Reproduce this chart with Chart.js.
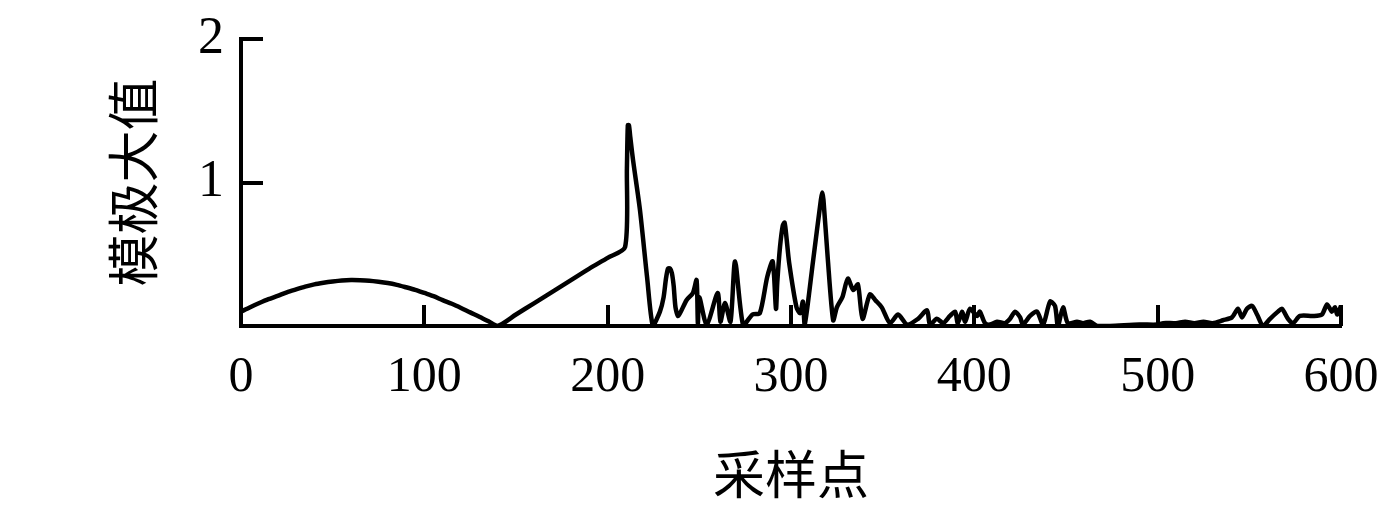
<!DOCTYPE html>
<html>
<head>
<meta charset="utf-8">
<script src="https://cdn.jsdelivr.net/npm/chart.js@4.4.1/dist/chart.umd.min.js"></script>
<style>
  html, body { margin: 0; padding: 0; background: #ffffff; }
  #wrap { width: 1378px; height: 509px; }
</style>
</head>
<body>
<div id="wrap"><canvas id="c" width="1378" height="509"></canvas></div>
<script>
// ---- data ----
const samplePoints = [
  0, 5, 10, 15, 20, 25, 30, 35, 40, 45, 50, 55, 60, 65, 70, 75, 80, 85, 90, 95,
  100, 105, 110, 115, 120, 125, 130, 135, 140,
  150, 160, 170, 180, 190, 200, 209.5, 210.5, 211, 211.6, 212.3, 213.8, 217.6, 221.5, 224.7,
  228.5, 230.5, 231.8, 232.9, 234, 235, 236, 237, 238.5, 243, 246.5, 248.5, 249.2, 250, 254,
  260, 261.5, 264, 267, 269.5, 274, 279, 283, 287, 290, 291.8, 292.5, 294, 295.5, 296.5, 297.5,
  299, 303, 305, 306.5, 307.5, 312, 316.3, 317, 317.7, 320, 323, 325, 328, 331, 334, 336.5,
  339, 343, 346, 349.5, 354, 358.4, 363.3, 369.3, 374.2, 375.8, 379.6, 383,
  386.7, 389.5, 391, 393.3, 395, 397.6, 401.5, 403, 405.8, 408.5, 412.4,
  416.7, 419.5, 422.2, 425, 426.5, 430.4, 434.2, 437.5, 441.3, 444, 445.6,
  448.4, 451, 456, 459.3, 463.1, 467, 474, 490, 500, 503, 510, 515, 520, 525,
  530, 535.6, 540.5, 543.8, 546, 548.7, 551.5, 554.2, 557.5, 561.3, 565.6,
  567.8, 571.1, 573.8, 577.6, 584.7, 589.6, 592.4, 595, 596.7, 598, 600
];
const modulusMaxima = [
  0.10, 0.131, 0.16, 0.187, 0.21, 0.235, 0.255, 0.274, 0.29, 0.301, 0.31, 0.317, 0.32, 0.319, 0.316, 0.309, 0.30, 0.287, 0.27, 0.252,
  0.23, 0.208, 0.18, 0.155, 0.126, 0.095, 0.065, 0.033, 0.0,
  0.08, 0.16, 0.24, 0.32, 0.40, 0.475, 0.55, 1.10, 1.40, 1.40, 1.32, 1.16, 0.81, 0.34, 0.0,
  0.10, 0.20, 0.33, 0.40, 0.40, 0.37, 0.28, 0.13, 0.07, 0.18, 0.23, 0.32, 0.02, 0.20, 0.01,
  0.23, 0.03, 0.16, 0.03, 0.45, 0.0, 0.08, 0.09, 0.34, 0.45, 0.12, 0.30, 0.55, 0.70, 0.72, 0.62,
  0.44, 0.13, 0.09, 0.17, 0.01, 0.45, 0.88, 0.93, 0.88, 0.48, 0.04, 0.13, 0.20, 0.33, 0.25, 0.29,
  0.05, 0.22, 0.18, 0.13, 0.02, 0.08, 0.01, 0.05, 0.11, 0.01, 0.05, 0.02,
  0.07, 0.10, 0.02, 0.10, 0.03, 0.12, 0.07, 0.10, 0.02, 0.01, 0.03,
  0.02, 0.05, 0.10, 0.06, 0.01, 0.07, 0.10, 0.01, 0.17, 0.14, 0.0,
  0.13, 0.02, 0.03, 0.02, 0.03, 0.0, 0.0, 0.01, 0.01, 0.02, 0.02, 0.03, 0.02, 0.03,
  0.02, 0.04, 0.06, 0.12, 0.06, 0.12, 0.14, 0.08, 0.0, 0.05, 0.10,
  0.12, 0.05, 0.02, 0.07, 0.07, 0.08, 0.15, 0.10, 0.13, 0.08, 0.14
];
const xTickValues = [0, 100, 200, 300, 400, 500, 600];
const yTickValues = [1, 2];
const xTitle = '采样点';
const yTitle = '模极大值';

// ---- chart ----
const points = samplePoints.map((x, i) => ({ x: x, y: modulusMaxima[i] }));

const inwardTicks = {
  id: 'inwardTicks',
  afterDatasetsDraw(chart) {
    const ctx = chart.ctx;
    const xs = chart.scales.x, ys = chart.scales.y;
    const area = chart.chartArea;
    ctx.save();
    ctx.strokeStyle = '#000';
    ctx.lineWidth = 4;
    ctx.lineCap = 'butt';
    xTickValues.forEach(v => {
      if (v === 0) return;
      const px = Math.round(xs.getPixelForValue(v));
      ctx.beginPath();
      ctx.moveTo(px, area.bottom);
      ctx.lineTo(px, area.bottom - 21);
      ctx.stroke();
    });
    yTickValues.forEach(v => {
      const py = Math.round(ys.getPixelForValue(v));
      ctx.beginPath();
      ctx.moveTo(area.left, py);
      ctx.lineTo(area.left + 22, py);
      ctx.stroke();
    });
    ctx.restore();
  }
};

new Chart(document.getElementById('c'), {
  type: 'line',
  data: {
    datasets: [{
      data: points,
      borderColor: '#000',
      borderWidth: 4.5,
      borderJoinStyle: 'round',
      pointRadius: 0,
      fill: false,
      tension: 0.25
    }]
  },
  options: {
    responsive: false,
    animation: false,
    events: [],
    layout: { padding: { left: 100, right: 37, top: 39, bottom: 0 } },
    plugins: { legend: { display: false }, tooltip: { enabled: false } },
    scales: {
      x: {
        type: 'linear',
        min: 0, max: 600,
        afterBuildTicks: s => { s.ticks = xTickValues.map(v => ({ value: v })); },
        afterFit: s => { s.height = 183; s.paddingLeft = 0; s.paddingRight = 0; },
        grid: { display: true, drawOnChartArea: false, drawTicks: false },
        border: { display: true, color: '#000', width: 4 },
        ticks: {
          color: '#000',
          padding: 22,
          maxRotation: 0,
          autoSkip: false,
          font: { family: 'Liberation Serif', size: 50 }
        },
        title: {
          display: true, text: xTitle, color: '#000',
          font: { family: 'Noto Sans CJK SC', size: 52 },
          padding: { top: 0, bottom: 4 }
        }
      },
      y: {
        type: 'linear',
        min: 0, max: 2,
        afterBuildTicks: s => { s.ticks = yTickValues.map(v => ({ value: v })); },
        afterFit: s => { s.width = 141; s.paddingTop = 0; s.paddingBottom = 0; },
        grid: { display: true, drawOnChartArea: false, drawTicks: false },
        border: { display: true, color: '#000', width: 4 },
        ticks: {
          color: '#000',
          padding: 17,
          font: { family: 'Liberation Serif', size: 52 }
        },
        title: {
          display: true, text: yTitle, color: '#000',
          font: { family: 'Noto Sans CJK SC', size: 52 },
          padding: { top: 2, bottom: 0 }
        }
      }
    }
  },
  plugins: [inwardTicks]
});
</script>
</body>
</html>
